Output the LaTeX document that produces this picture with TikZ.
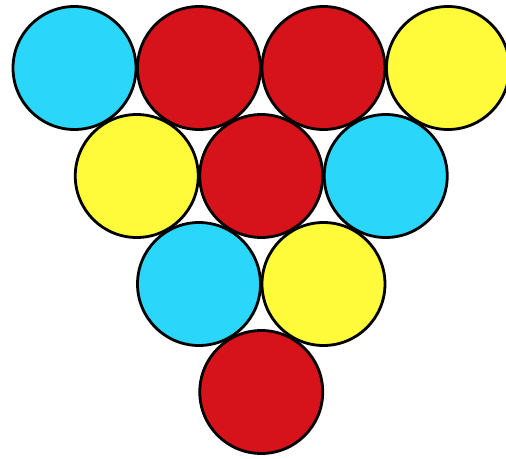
\documentclass[tikz,border=0pt]{standalone}
\usepackage{xcolor}
\usepackage{tikz}
\definecolor{ballcyan}{RGB}{42,215,251}
\definecolor{ballred}{RGB}{214,19,27}
\definecolor{ballyellow}{RGB}{255,250,58}

\begin{document}
\begin{tikzpicture}[
  x=1pt, y=-1pt,
  ball/.style={draw, circle, line width=2.8pt, minimum size=123pt, inner sep=0pt},
  cyanball/.style={ball, fill=ballcyan},
  redball/.style={ball, fill=ballred},
  yellowball/.style={ball, fill=ballyellow}
]
\useasboundingbox (0,0) rectangle (506,458);
% top row
\node[cyanball] (a1) at (74.5,68) {};
\node[redball] (a2) at (199,68) {};
\node[redball] (a3) at (323.5,68) {};
\node[yellowball] (a4) at (448,68) {};
% second row
\node[yellowball] (b1) at (136.75,176) {};
\node[redball] (b2) at (261.25,176) {};
\node[cyanball] (b3) at (385.75,176) {};
% third row
\node[cyanball] (c1) at (199,284) {};
\node[yellowball] (c2) at (323.5,284) {};
% bottom
\node[redball] (d1) at (261.25,392) {};
\end{tikzpicture}
\end{document}
